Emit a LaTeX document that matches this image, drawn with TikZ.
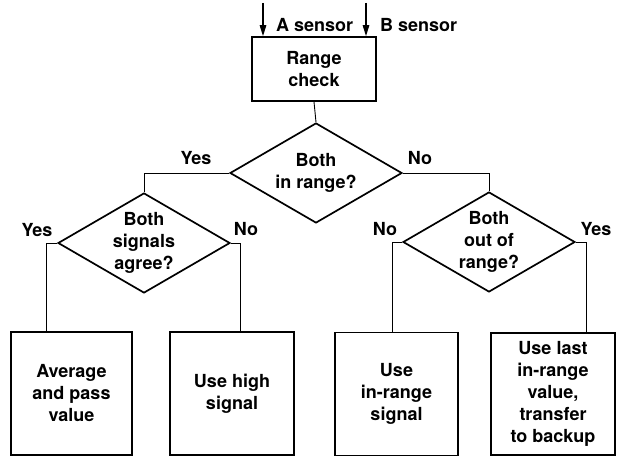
\documentclass[tikz,border=0pt]{standalone}
\usepackage{fontspec}
\setmainfont{TeX Gyre Heros}
\usetikzlibrary{shapes.geometric,arrows.meta}
\tikzset{
  txt/.style={font=\bfseries\fontsize{18}{22}\selectfont, align=center},
  boxnode/.style={txt, draw, line width=1.7pt, inner sep=0pt, minimum height=123pt},
  decision/.style={txt, draw, diamond, line width=1.7pt, inner sep=0pt, aspect=1.72, minimum width=172pt, minimum height=100pt},
  conn/.style={line width=0.9pt},
  inarrow/.style={line width=1.2pt, -{Triangle[length=11pt,width=6.5pt]}},
  lbl/.style={font=\bfseries\fontsize{18}{22}\selectfont, anchor=base, inner sep=0pt}
}
\begin{document}
\begin{tikzpicture}[x=1pt,y=-1pt]
\useasboundingbox (0,0) rectangle (618,457);
% top box
\node[txt, draw, line width=1.7pt, inner sep=0pt, minimum width=124pt, minimum height=64pt] (rc) at (314,69) {Range\\check};
% input arrows
\coordinate (a0) at (263,3);
\coordinate (b0) at (366,3);
\draw[inarrow] (a0) -- (a0 |- rc.north);
\draw[inarrow] (b0) -- (b0 |- rc.north);
\node[lbl, anchor=base west] (la) at (276,32) {A sensor};
\node[lbl, anchor=base west] (lb) at (380,32) {B sensor};
% decisions
\node[decision] (d1) at (316,173) {Both\\in range?};
\node[decision] (d2) at (144,243) {Both\\signals\\agree?};
\node[decision] (d3) at (489,242) {Both\\out of\\range?};
% result boxes
\node[boxnode, minimum width=121pt] (b1) at (71.5,393.5) {Average\\and pass\\value};
\node[boxnode, minimum width=124pt] (b2) at (232,393.5) {Use high\\signal};
\node[boxnode, minimum width=123pt] (b3) at (396.5,394) {Use\\in-range\\signal};
\node[boxnode, minimum width=124pt, minimum height=122pt] (b4) at (553,394) {Use last\\in-range\\value,\\transfer\\to backup};
% corner coordinates
\coordinate (c1) at (46,243);
\coordinate (c2) at (240,243);
\coordinate (c3) at (392,242);
\coordinate (c4) at (586,242);
% connectors
\draw[conn] (rc.south) -- (d1.north);
\draw[conn] (d1.west) -| (d2.north);
\draw[conn] (d1.east) -| (d3.north);
\draw[conn] (d2.west) -- (c1) -- (c1 |- b1.north);
\draw[conn] (d2.east) -- (c2) -- (c2 |- b2.north);
\draw[conn] (d3.west) -- (c3) -- (c3 |- b3.north);
\draw[conn] (d3.east) -- (c4) -- (c4 |- b4.north);
% branch labels
\node[lbl] (y1) at (196,165) {Yes};
\node[lbl] (n1) at (420,165) {No};
\node[lbl] (y2) at (37,236) {Yes};
\node[lbl] (n2) at (246,235) {No};
\node[lbl] (n3) at (385,235) {No};
\node[lbl] (y3) at (596,235) {Yes};
\end{tikzpicture}
\end{document}
